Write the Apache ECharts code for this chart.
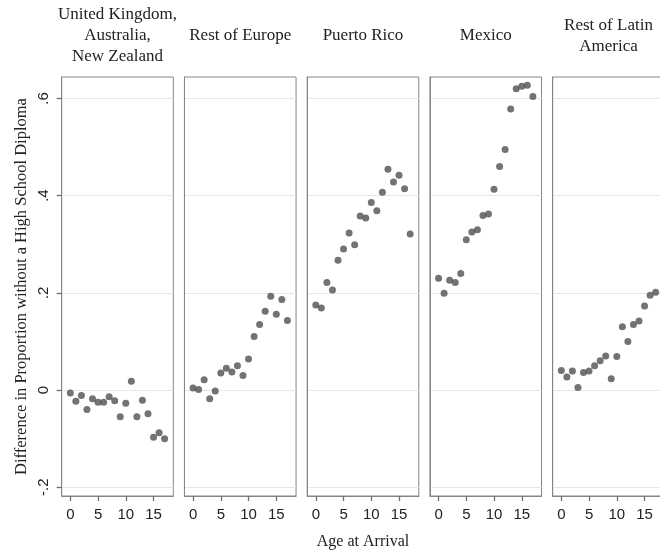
<!DOCTYPE html>
<html>
<head>
<meta charset="utf-8">
<script src="https://cdn.jsdelivr.net/npm/echarts@6/dist/echarts.min.js"></script>
<style>html,body{margin:0;padding:0;background:#fff}#c{width:660px;height:555px}</style>
</head>
<body>
<div id="c"></div>
<script>
const panelTitles = ['United Kingdom,\nAustralia,\nNew Zealand', 'Rest of Europe', 'Puerto Rico', 'Mexico', 'Rest of Latin\nAmerica'];
const ages = [0,1,2,3,4,5,6,7,8,9,10,11,12,13,14,15,16,17];
const ukAusNz = [-0.006,-0.023,-0.011,-0.040,-0.018,-0.025,-0.025,-0.014,-0.022,-0.055,-0.027,0.018,-0.055,-0.021,-0.049,-0.097,-0.088,-0.100];
const restEurope = [0.004,0.001,0.021,-0.018,-0.002,0.035,0.045,0.037,0.050,0.030,0.064,0.110,0.135,0.162,0.193,0.156,0.186,0.143];
const puertoRico = [0.175,0.169,0.221,0.206,0.267,0.290,0.323,0.299,0.358,0.354,0.386,0.369,0.407,0.454,0.428,0.442,0.414,0.321];
const mexico = [0.230,0.199,0.226,0.221,0.240,0.309,0.325,0.330,0.359,0.362,0.413,0.460,0.495,0.578,0.620,0.625,0.627,0.604];
const restLatAm = [0.040,0.027,0.039,0.005,0.036,0.039,0.050,0.060,0.070,0.023,0.069,0.130,0.100,0.135,0.142,0.173,0.195,0.201];
const yTicks = [-0.2, 0, 0.2, 0.4, 0.6];
const yTickLabels = ['-.2', '0', '.2', '.4', '.6'];
const xTicks = [0, 5, 10, 15];
const yTitle = 'Difference in Proportion without a High School Diploma';
const xTitle = 'Age at Arrival';

const seriesValues = [ukAusNz, restEurope, puertoRico, mexico, restLatAm];

const panelLeft0 = 61.7, panelStep = 122.75, panelWidth = 111.6, panelTop = 77, panelHeight = 419;
const serif = '"Liberation Serif", "DejaVu Serif", serif';
const sans = '"Liberation Sans", Arial, sans-serif';
const frame = '#858585';
const tickColor = '#6e6e6e';

const grids = [], xAxes = [], yAxes = [], series = [], titles = [];
seriesValues.forEach((vals, i) => {
  const left = panelLeft0 + i * panelStep;
  grids.push({
    left: left, top: panelTop, width: panelWidth, height: panelHeight,
    show: true, borderColor: frame, borderWidth: 1,
    containLabel: false, outerBoundsMode: 'none'
  });
  xAxes.push({
    type: 'value', gridIndex: i, min: -1.55, max: 18.56, position: 'bottom',
    axisLine: { show: true, onZero: false, lineStyle: { color: frame, width: 1 } },
    axisTick: { show: true, inside: false, length: 5, lineStyle: { color: tickColor, width: 1.3 }, customValues: xTicks },
    axisLabel: { show: true, customValues: xTicks, margin: 11, fontFamily: sans, fontSize: 15, color: '#222' },
    splitLine: { show: false },
    name: i === 2 ? xTitle : '',
    nameLocation: 'middle', nameGap: 38,
    nameTextStyle: { fontFamily: serif, fontSize: 16, color: '#222' }
  });
  yAxes.push({
    type: 'value', gridIndex: i, min: -0.218, max: 0.644, position: 'left',
    axisLine: { show: true, onZero: false, lineStyle: { color: frame, width: 1 } },
    axisTick: { show: i === 0, inside: false, length: 5, lineStyle: { color: tickColor, width: 1.3 }, customValues: yTicks },
    axisLabel: {
      show: i === 0, customValues: yTicks, rotate: 90, margin: 10,
      fontFamily: sans, fontSize: 15, color: '#222',
      formatter: (v) => {
        const k = yTicks.findIndex(t => Math.abs(t - v) < 1e-9);
        return k >= 0 ? yTickLabels[k] : '';
      }
    },
    splitLine: { show: true, lineStyle: { color: '#e6e6e6', width: 1 } },
    name: i === 0 ? yTitle : '',
    nameLocation: 'middle', nameRotate: 90, nameGap: 32,
    nameTextStyle: { fontFamily: serif, fontSize: 16.5, color: '#222' }
  });
  series.push({
    type: 'scatter', xAxisIndex: i, yAxisIndex: i,
    data: ages.map((a, k) => [a, vals[k]]),
    symbol: 'circle', symbolSize: 7,
    itemStyle: { color: '#505050' },
    silent: true, animation: false
  });
  const nLines = panelTitles[i].split('\n').length;
  titles.push({
    text: panelTitles[i],
    left: left + panelWidth / 2, top: 36 - nLines * 10.5,
    textAlign: 'center', padding: 0,
    textStyle: { fontFamily: serif, fontSize: 17, fontWeight: 'normal', color: '#222', lineHeight: 21 }
  });
});

const chart = echarts.init(document.getElementById('c'), null, { renderer: 'canvas' });
chart.setOption({
  backgroundColor: '#fff',
  animation: false,
  title: titles,
  grid: grids,
  xAxis: xAxes,
  yAxis: yAxes,
  series: series
});
</script>
</body>
</html>
